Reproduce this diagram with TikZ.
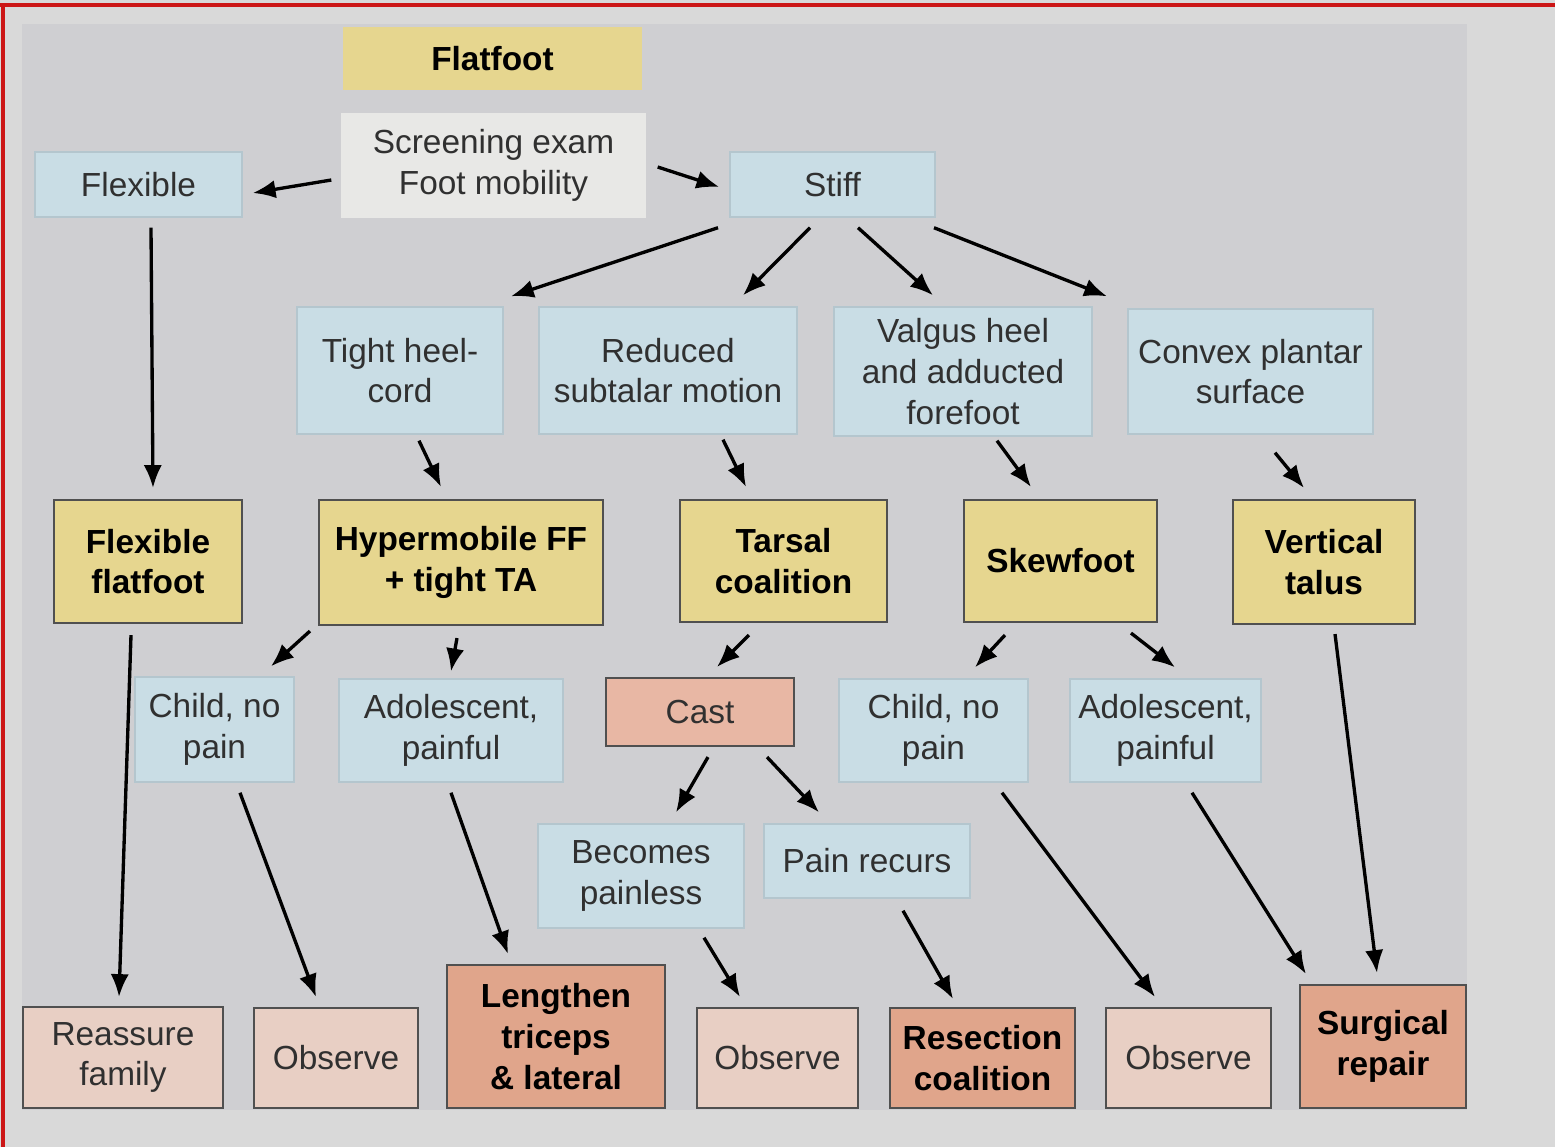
\documentclass[tikz,border=0pt]{standalone}
\usepackage{fontspec}
\setmainfont{Liberation Sans}
\usetikzlibrary{arrows.meta}
\definecolor{pagegrey}{HTML}{D9D9D9}
\definecolor{panelgrey}{HTML}{CFCFD2}
\definecolor{frame}{HTML}{CC1616}
\definecolor{dxyellow}{HTML}{E6D68F}
\definecolor{findblue}{HTML}{C9DDE5}
\definecolor{findedge}{HTML}{B4C6CE}
\definecolor{examgrey}{HTML}{E8E8E6}
\definecolor{obspink}{HTML}{E8CFC4}
\definecolor{castpink}{HTML}{E8B7A4}
\definecolor{oppink}{HTML}{E0A58B}
\definecolor{boxedge}{HTML}{505050}
\definecolor{plaintext}{HTML}{303030}

\begin{document}
\begin{tikzpicture}[
  x=0.1mm,
  y=-0.1mm,
  box/.style={align=center,inner sep=0pt,text=plaintext,
    font=\fontsize{9.5}{11.6}\selectfont},
  boldbox/.style={box,text=black,font=\fontsize{9.5}{11.6}\selectfont\bfseries},
  finding/.style={box,fill=findblue,draw=findedge,line width=0.4pt},
  diagnosis/.style={boldbox,fill=dxyellow,draw=boxedge,line width=0.6pt},
  observe/.style={box,fill=obspink,draw=boxedge,line width=0.6pt},
  surgery/.style={boldbox,fill=oppink,draw=boxedge,line width=0.6pt},
  arr/.style={draw=black,line width=0.95pt,-{Latex[length=6.5pt,width=5.2pt]}}
]
  % Page, red frame and grey panel.
  \useasboundingbox[fill=pagegrey] (0,0) rectangle (1555,1147);
  \fill[panelgrey] (22,24) rectangle (1467,1110);
  \draw[frame,line width=1.1pt] (0,5) -- (1555,5);
  \draw[frame,line width=1.1pt] (3,5) -- (3,1147);

  % Title and screening exam.
  \node[boldbox,fill=dxyellow,minimum width=29.9mm,minimum height=6.3mm] (flat) at (492.5,58.5) {Flatfoot};
  \node[box,fill=examgrey,minimum width=30.5mm,minimum height=10.5mm] (scr) at (493.5,165.5) {Screening exam\\Foot mobility};

  % Mobility.
  \node[finding,minimum width=20.7mm,minimum height=6.5mm] (flex) at (138.5,184.5) {Flexible};
  \node[finding,minimum width=20.5mm,minimum height=6.5mm] (stiff) at (832.5,184.5) {Stiff};

  % Findings in the stiff foot.
  \node[finding,minimum width=20.6mm,minimum height=12.7mm] (tight) at (400,370.5) {Tight heel-\\cord};
  \node[finding,minimum width=25.8mm,minimum height=12.7mm] (reduced) at (668,370.5) {Reduced\\subtalar motion};
  \node[finding,minimum width=25.8mm,minimum height=12.9mm] (valgus) at (963,371.5) {Valgus heel\\and adducted\\forefoot};
  \node[finding,minimum width=24.5mm,minimum height=12.5mm] (convex) at (1250.5,371.5) {Convex plantar\\surface};

  % Diagnoses.
  \node[diagnosis,minimum width=18.8mm,minimum height=12.3mm] (flexff) at (148,561.5) {Flexible\\flatfoot};
  \node[diagnosis,minimum width=28.4mm,minimum height=12.5mm] (hyper) at (461,562.5) {Hypermobile FF\\+ tight TA};
  \node[diagnosis,minimum width=20.7mm,minimum height=12.2mm] (tarsal) at (783.5,561) {Tarsal\\coalition};
  \node[diagnosis,minimum width=19.3mm,minimum height=12.2mm] (skew) at (1060.5,561) {Skewfoot};
  \node[diagnosis,minimum width=18.2mm,minimum height=12.4mm] (vert) at (1324,562) {Vertical\\talus};

  % Age and symptoms.
  \node[finding,minimum width=15.9mm,minimum height=10.5mm] (childL) at (214.5,729.5) {Child, no\\pain};
  \node[finding,minimum width=22.4mm,minimum height=10.3mm] (adolL) at (451,730.5) {Adolescent,\\painful};
  \node[box,fill=castpink,draw=boxedge,line width=0.6pt,minimum width=18.8mm,minimum height=6.8mm] (cast) at (700,712) {Cast};
  \node[finding,minimum width=18.9mm,minimum height=10.3mm] (childR) at (933.5,730.5) {Child, no\\pain};
  \node[finding,minimum width=19.1mm,minimum height=10.3mm] (adolR) at (1165.5,730.5) {Adolescent,\\painful};
  \node[finding,minimum width=20.6mm,minimum height=10.4mm] (becomes) at (641,876) {Becomes\\painless};
  \node[finding,minimum width=20.6mm,minimum height=7.4mm] (recurs) at (867,861) {Pain recurs};

  % Management.
  \node[observe,minimum width=20.0mm,minimum height=10.1mm] (reassure) at (123,1057.5) {Reassure\\family};
  \node[observe,minimum width=16.4mm,minimum height=10.0mm] (obs1) at (336,1058) {Observe};
  \node[surgery,minimum width=21.8mm,minimum height=14.3mm] (lengthen) at (556,1036.5) {Lengthen\\triceps\\\& lateral};
  \node[observe,minimum width=16.1mm,minimum height=10.0mm] (obs2) at (777.5,1058) {Observe};
  \node[surgery,minimum width=18.5mm,minimum height=10.0mm] (resect) at (982.5,1058) {Resection\\coalition};
  \node[observe,minimum width=16.5mm,minimum height=10.0mm] (obs3) at (1188.5,1058) {Observe};
  \node[surgery,minimum width=16.6mm,minimum height=12.3mm] (surg) at (1383,1046.5) {Surgical\\repair};

  % Arrows leave small gaps at both ends.
  \draw[arr] ([shift={(-9,14.5)}]scr.west) -- ([shift={(10,8.5)}]flex.east);
  \draw[arr] ([shift={(11,1.5)}]scr.east) -- ([shift={(-10,2.5)}]stiff.west);
  \draw[arr] ([shift={(12.5,10)}]flex.south) -- ([shift={(5,-11)}]flexff.north);

  \draw[arr] ([shift={(-114.5,10)}]stiff.south) -- ([shift={(111,-10)}]tight.north);
  \draw[arr] ([shift={(-22.5,10)}]stiff.south) -- ([shift={(75,-11)}]reduced.north);
  \draw[arr] ([shift={(25.5,10)}]stiff.south) -- ([shift={(-30,-11)}]valgus.north);
  \draw[arr] ([shift={(101.5,10)}]stiff.south) -- ([shift={(-143.5,-12)}]convex.north);

  \draw[arr] ([shift={(19,6)}]tight.south) -- ([shift={(-20,-12)}]hyper.north);
  \draw[arr] ([shift={(55,5)}]reduced.south) -- ([shift={(-37.5,-12)}]tarsal.north);
  \draw[arr] ([shift={(34,4)}]valgus.south) -- ([shift={(-29.5,-12)}]skew.north);
  \draw[arr] ([shift={(24.5,18)}]convex.south) -- ([shift={(-20,-11)}]vert.north);

  \draw[arr] ([shift={(-17,11)}]flexff.south) -- ([shift={(-4,-9)}]reassure.north);
  \draw[arr] ([shift={(-8,5)}]hyper.south west) -- ([shift={(56.5,-10)}]childL.north);
  \draw[arr] ([shift={(-4,12)}]hyper.south) -- ([shift={(0,-7)}]adolL.north);
  \draw[arr] ([shift={(-34.5,12)}]tarsal.south) -- ([shift={(17,-10)}]cast.north);
  \draw[arr] ([shift={(-55.5,12)}]skew.south) -- ([shift={(41.5,-11)}]childR.north);
  \draw[arr] ([shift={(70.5,10)}]skew.south) -- ([shift={(9.5,-11)}]adolR.north);
  \draw[arr] ([shift={(11,9)}]vert.south) -- ([shift={(-6,-11)}]surg.north);

  \draw[arr] ([shift={(25.5,10)}]childL.south) -- ([shift={(-20,-10)}]obs1.north);
  \draw[arr] ([shift={(0,10)}]adolL.south) -- ([shift={(-48,-10)}]lengthen.north);
  \draw[arr] ([shift={(8,10)}]cast.south) -- ([shift={(35,-11)}]becomes.north);
  \draw[arr] ([shift={(67,10)}]cast.south) -- ([shift={(-48,-11)}]recurs.north);
  \draw[arr] ([shift={(68.5,10)}]childR.south) -- ([shift={(-33.5,-10)}]obs3.north);
  \draw[arr] ([shift={(26.5,10)}]adolR.south) -- ([shift={(7,-10)}]surg.north west);
  \draw[arr] ([shift={(63,9)}]becomes.south) -- ([shift={(-37.5,-10)}]obs2.north);
  \draw[arr] ([shift={(36,12)}]recurs.south) -- ([shift={(-29.5,-8)}]resect.north);
\end{tikzpicture}
\end{document}
